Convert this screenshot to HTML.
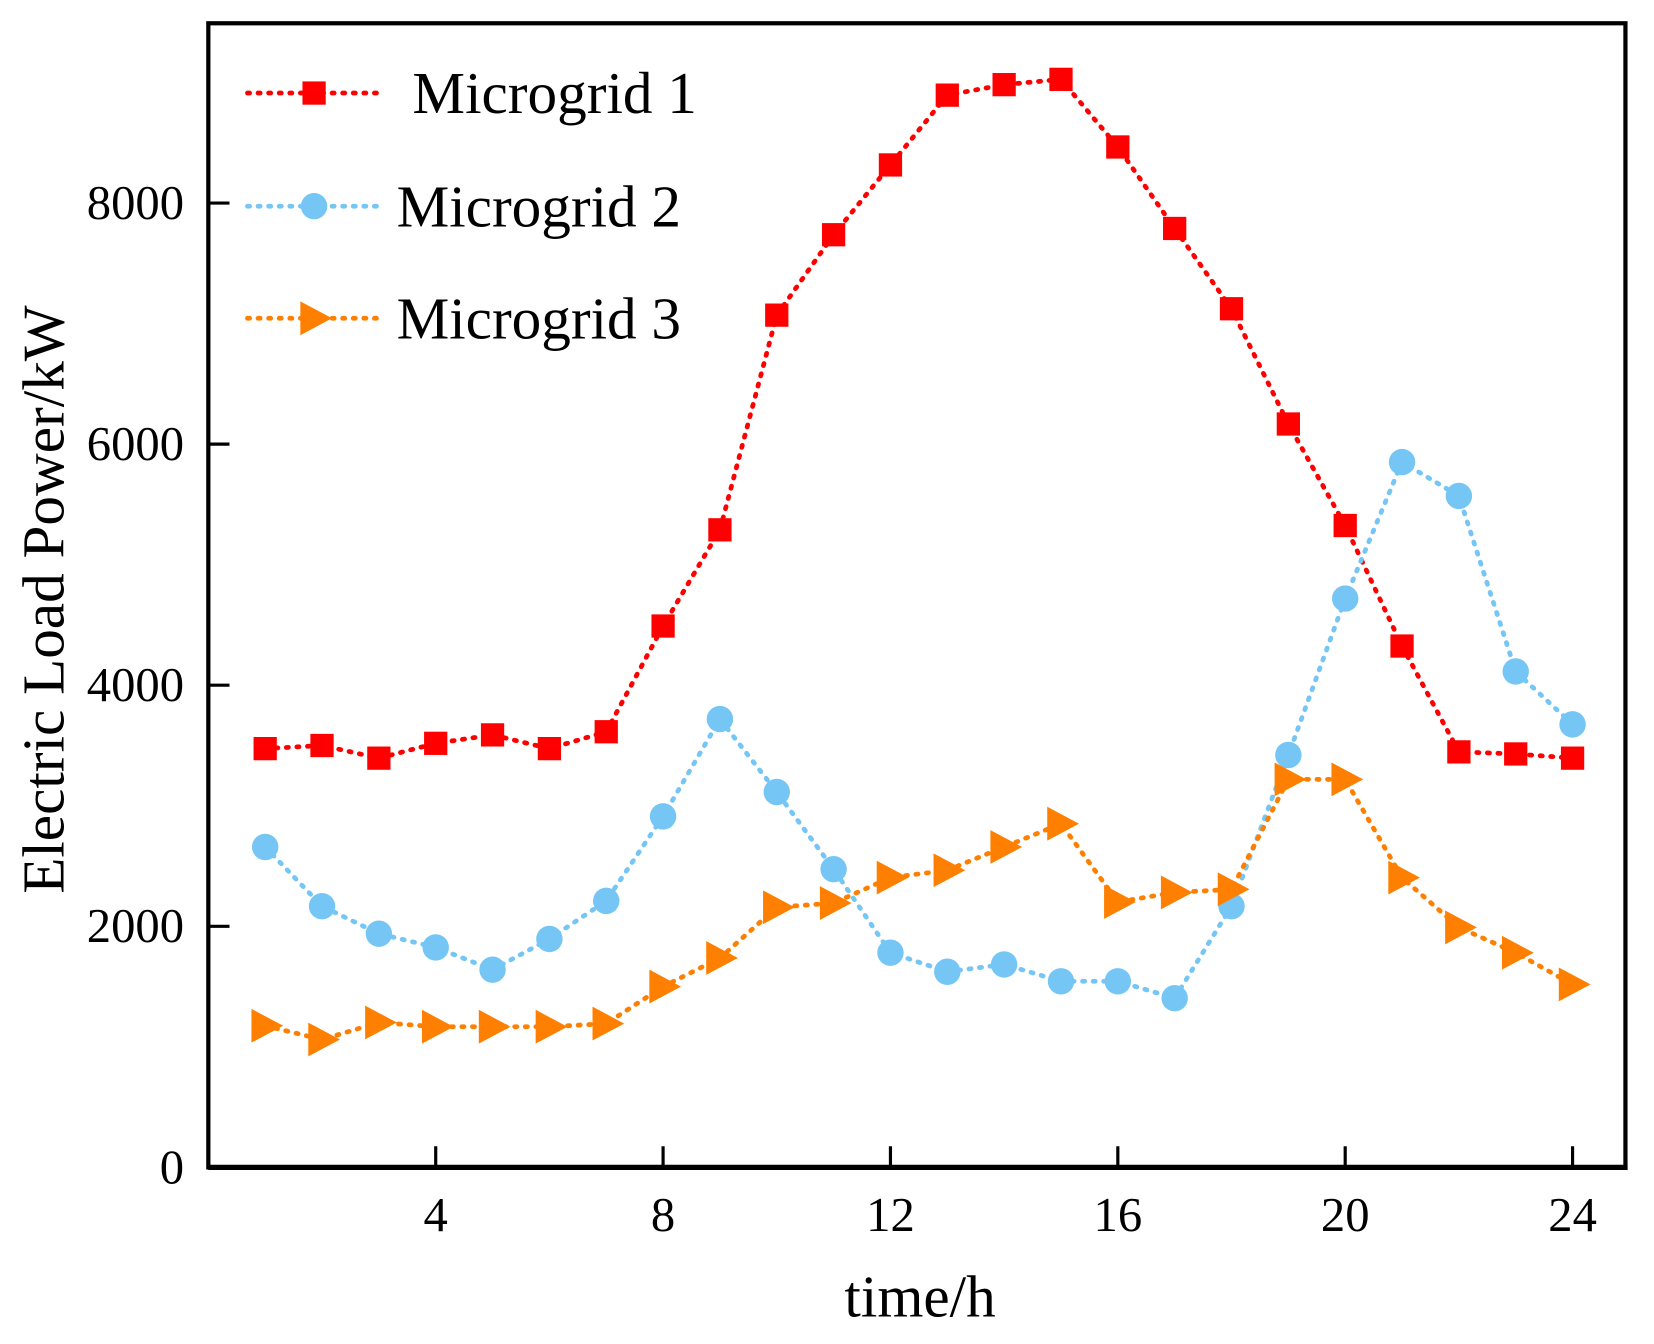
<!DOCTYPE html>
<html><head><meta charset="utf-8"><style>
html,body{margin:0;padding:0;background:#fff}
svg{display:block;font-family:"Liberation Serif",serif}
</style></head><body>
<svg id="chart" width="1654" height="1344" viewBox="0 0 1564 1271" preserveAspectRatio="none" xmlns="http://www.w3.org/2000/svg">
<g id="plot"></g>
</svg>
<script>
const hours=[1,2,3,4,5,6,7,8,9,10,11,12,13,14,15,16,17,18,19,20,21,22,23,24];
const mg1=[3474,3500,3395,3518,3588,3474,3614,4491,5289,7070,7737,8316,8895,8982,9026,8465,7789,7123,6167,5325,4325,3447,3430,3395];
const mg2=[2658,2167,1939,1825,1640,1895,2211,2912,3719,3114,2474,1781,1623,1684,1544,1544,1404,2167,3421,4719,5851,5570,4114,3675];
const mg3=[1175,1061,1202,1167,1167,1167,1193,1500,1737,2158,2193,2404,2465,2658,2851,2202,2281,2307,3219,3219,2404,1991,1781,1518];
const xTicks=[4,8,12,16,20,24];
const yTicks=[0,2000,4000,6000,8000];
const seriesNames=["Microgrid 1","Microgrid 2","Microgrid 3"];

const NS="http://www.w3.org/2000/svg";
const L=197,R=1537,T=22,B=1104;
function xs(h){return 412+(h-4)*53.75;}
function ys(v){return B-v*0.114;}
const g=document.getElementById('plot');
function mk(tag,attrs,parent){const e=document.createElementNS(NS,tag);for(const k in attrs)e.setAttribute(k,attrs[k]);(parent||g).appendChild(e);return e;}

let fr=mk('rect',{x:L,y:T,width:R-L,height:B-T,fill:'none',stroke:'#000','stroke-width':4});


let xa=mk('line',{x1:L,y1:B,x2:R+2,y2:B,stroke:'#000','stroke-width':5});



xTicks.forEach(t=>{
  const tk=mk('line',{x1:xs(t),y1:B,x2:xs(t),y2:B-20,stroke:'#000','stroke-width':3});
  
  
  const tl=mk('text',{x:xs(t),y:1164,'text-anchor':'middle','font-size':46});
  tl.textContent=t;
  
  
});
yTicks.forEach(t=>{
  const tk=mk('line',{x1:L,y1:ys(t),x2:L+20,y2:ys(t),stroke:'#000','stroke-width':3});
  
  
  const tl=mk('text',{x:174,y:ys(t)+15,'text-anchor':'end','font-size':46});
  tl.textContent=t;
  
  
});
let xt=mk('text',{x:870,y:1245,'text-anchor':'middle','font-size':56});
xt.textContent='time/h';


let yt=mk('text',{x:0,y:0,'text-anchor':'middle','font-size':56,transform:'translate(60,567) rotate(-90)'});
yt.textContent='Electric Load Power/kW';



function marker(type,cx,cy,color,parent){
  let e;
  if(type==='square') e=mk('rect',{x:cx-11,y:cy-11,width:22,height:22,fill:color},parent);
  else if(type==='circle') e=mk('circle',{cx:cx,cy:cy,r:12.5,fill:color},parent);
  else e=mk('polygon',{points:`${cx-13},${cy-16} ${cx+17},${cy} ${cx-13},${cy+16}`,fill:color},parent);
  return e;
}
const series=[[mg1,'#ff0000','square','series-microgrid-1'],[mg2,'#75c6f5','circle','series-microgrid-2'],[mg3,'#ff8000','triangle','series-microgrid-3']];
series.forEach(([vals,col,type,name])=>{
  const sg=mk('g',{});
  
  
  const pts=hours.map((h,i)=>xs(h)+','+ys(vals[i])).join(' ');
  const pl=mk('polyline',{points:pts,fill:'none',stroke:col,'stroke-width':4.5,'stroke-dasharray':'2 8','stroke-linecap':'round'},sg);
  
  
  hours.forEach((h,i)=>{
    const m=marker(type,xs(h),ys(vals[i]),col,sg);
    
    
  });
});

const legY=[88,195,301],legX=[390,375,375];
const lg=mk('g',{});


series.forEach(([vals,col,type],i)=>{
  const eg=mk('g',{},lg);
  
  
  mk('line',{x1:234,y1:legY[i],x2:362,y2:legY[i],stroke:col,'stroke-width':4.5,'stroke-dasharray':'2 8','stroke-linecap':'round'},eg);
  marker(type,297,legY[i],col,eg);
  const t=mk('text',{x:legX[i],y:legY[i]+19,'font-size':56},eg);
  t.textContent=seriesNames[i];
  
  
});
</script>
</body></html>
